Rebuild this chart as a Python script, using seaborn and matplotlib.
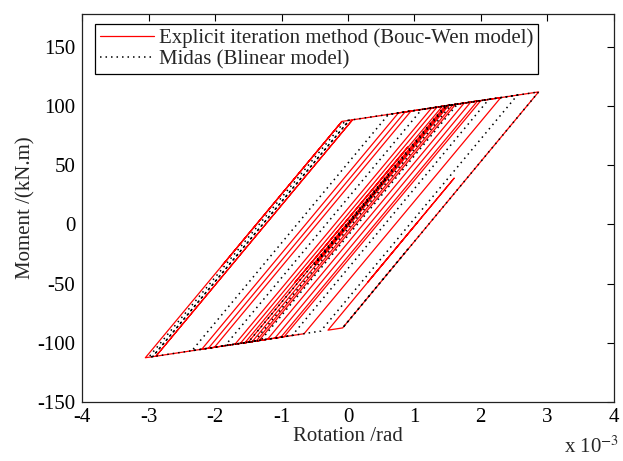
import matplotlib
matplotlib.use("Agg")
import matplotlib.pyplot as plt
import seaborn as sns
import pandas as pd

# Turning points (rotation in 1e-3 rad, moment in kN.m)
bw_rotation = [0.00, 0.60, -0.50, 1.49, 1.58, -1.38, -1.55, 0.90, -0.80, 1.42,
               1.52, -1.44, -1.50, 1.46, 1.62, -1.34, -1.62, 1.34,
               1.75, -1.21, -1.70, 1.26, 1.95, -1.01, -1.10, 1.85, 2.00, -0.96,
               -2.20, 0.76, 0.95, -2.01, -2.10, 0.86, 2.30, -0.66,
               -2.89, 0.07, -2.89, -3.05, -0.09, -1.90, -0.09, 2.87, -0.08, -0.30,
               1.60, 0.30, 1.05]
bw_moment = [0.0, 40.5, -33.8, 100.4, 101.2, -98.4, -99.9, 65.5, -49.0, 99.8,
             100.7, -98.9, -99.45, 100.1, 101.5, -98.1, -100.5, 99.1,
             102.6, -97.0, -101.2, 98.5, 104.3, -95.3, -96.05, 103.5, 104.7, -94.8,
             -105.4, 94.3, 95.9, -103.8, -104.55, 95.1, 107.2, -92.3,
             -111.3, 88.5, -111.3, -112.6, 87.1, -35.1, 87.1, 112.0, -87.4, -89.3,
             39.2, -48.6, 2.0]

midas_rotation = [0.00, 0.60, -0.50, 1.49, 1.55, -1.41, -1.50, 1.46, 1.65, -1.31,
                  -1.85, 1.11, 2.12, -0.84, -2.35, 0.61, 2.55, -0.41, -3.00, -0.04,
                  0.02, -2.94, 0.02, 2.87, -0.08, 0.90]
midas_moment = [0.0, 40.5, -33.8, 100.4, 100.9, -98.7, -99.5, 100.2, 101.8, -97.8,
                -102.4, 97.2, 105.7, -93.8, -106.7, 93.0, 109.3, -90.1, -112.2, 87.6,
                88.1, -111.7, 88.1, 112.0, -87.4, -20.9]

series_labels = ["Explicit iteration method (Bouc-Wen model)", "Midas (Blinear model)"]
x_ticks = [-4, -3, -2, -1, 0, 1, 2, 3, 4]
y_ticks = [-150, -100, -50, 0, 50, 100, 150]

sns.set_style("white")
plt.rcParams["font.family"] = ["Liberation Serif", "DejaVu Serif"]
plt.rcParams["mathtext.fontset"] = "stix"

FS = 15
fig = plt.figure(figsize=(6.23, 4.61), dpi=100)
ax = fig.add_axes([0.132, 0.128, 0.853, 0.842])

df_bw = pd.DataFrame({"rot": bw_rotation, "mom": bw_moment, "step": range(len(bw_rotation))})
df_mi = pd.DataFrame({"rot": midas_rotation, "mom": midas_moment, "step": range(len(midas_rotation))})

sns.lineplot(data=df_bw, x="rot", y="mom", sort=False, estimator=None, ax=ax,
             color="red", linewidth=0.9, label=series_labels[0])
sns.lineplot(data=df_mi, x="rot", y="mom", sort=False, estimator=None, ax=ax,
             color="black", linewidth=1.1, linestyle=(0, (1, 2.6)), label=series_labels[1])

ax.set_xlim(-4, 4)
ax.set_ylim(-150, 178)
ax.set_xticks(x_ticks)
ax.set_yticks(y_ticks)
ax.set_xticklabels([str(t) for t in x_ticks])
ax.set_yticklabels([str(t) for t in y_ticks])
ax.tick_params(direction="in", length=5, width=0.8, top=True, right=True,
               labelsize=FS, colors="black")
ax.tick_params(axis="x", pad=4)
ax.tick_params(axis="y", pad=5)
for s in ax.spines.values():
    s.set_visible(True)
    s.set_color("#222222")
    s.set_linewidth(0.9)

ax.set_xlabel("Rotation /rad", fontsize=FS, labelpad=0)
ax.set_ylabel("Moment /(kN.m)", fontsize=FS, labelpad=1)
fig.text(0.993, 0.008, r"x 10$^{-3}$", fontsize=FS, ha="right", va="bottom")

leg = ax.legend(loc="upper left", bbox_to_anchor=(0.024, 0.975), fontsize=FS,
                frameon=True, fancybox=False, framealpha=1, edgecolor="black",
                handlelength=2.6, handletextpad=0.2, borderpad=0.25,
                labelspacing=0.05, borderaxespad=0)
leg.get_frame().set_linewidth(0.9)

fig.savefig("out.png", dpi=100)
